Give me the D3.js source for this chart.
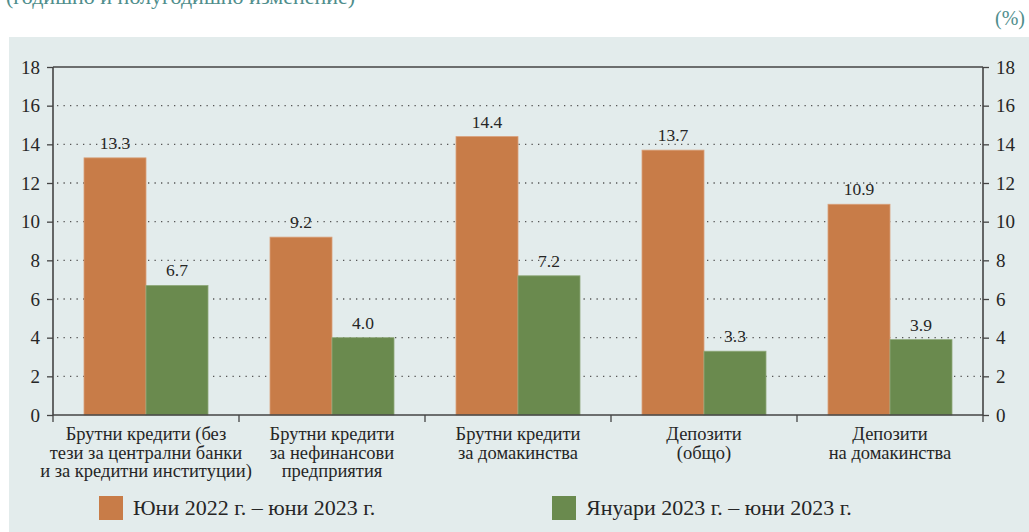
<!DOCTYPE html>
<html>
<head>
<meta charset="utf-8">
<script src="https://cdn.jsdelivr.net/npm/d3@7.9.0/dist/d3.min.js"></script>
<style>
  body { margin: 0; background: #fff; }
  svg { display: block; }
</style>
</head>
<body>
<svg id="chart" width="1029" height="532" font-family="Liberation Serif"></svg>
<script>
// Chart data
const categories = [
  ["Брутни кредити (без", "тези за централни банки", "и за кредитни институции)"],
  ["Брутни кредити", "за нефинансови", "предприятия"],
  ["Брутни кредити", "за домакинства"],
  ["Депозити", "(общо)"],
  ["Депозити", "на домакинства"]
];
const seriesNames = ["Юни 2022 г. – юни 2023 г.", "Януари 2023 г. – юни 2023 г."];
const yearly = [13.3, 9.2, 14.4, 13.7, 10.9];
const halfYear = [6.7, 4.0, 7.2, 3.3, 3.9];
const yTicks = [0, 2, 4, 6, 8, 10, 12, 14, 16, 18];

const colors = ["#c87c48", "#6a8a4e"];
const teal = "#4f8e8c";
const font = "Liberation Serif";
const textColor = "#262626";

const svg = d3.select('#chart');

// panel background
svg.append('rect')
  .attr('x', 9).attr('y', 37)
  .attr('width', 1020).attr('height', 495)
  .attr('fill', '#e3ecec');

// header bits (title is cut off at top)
svg.append('text')
  .attr('x', 6).attr('y', 4)
  .attr('font-family', font)
  .attr('font-size', 22)
  .attr('fill', teal)
  .text('(годишно и полугодишно изменение)');

svg.append('text')
  .attr('x', 1025).attr('y', 25)
  .attr('text-anchor', 'end')
  .attr('font-family', font)
  .attr('font-size', 20)
  .attr('fill', teal)
  .text('(%)');

const plotLeft = 53, plotRight = 983, plotTop = 67, plotBottom = 415;

const x = d3.scaleBand()
  .domain(d3.range(categories.length))
  .range([plotLeft, plotRight])
  .padding(0);

const inner = d3.scaleBand()
  .domain([0, 1])
  .range([x.bandwidth() / 6, x.bandwidth() * 5 / 6])
  .padding(0);

const y = d3.scaleLinear().domain([0, 18]).range([plotBottom, plotTop]);

// dotted gridlines
svg.append('g')
  .selectAll('line')
  .data(yTicks.filter(t => t > 0 && t < 18))
  .join('line')
  .attr('x1', plotLeft + 4).attr('x2', plotRight - 2)
  .attr('y1', d => y(d)).attr('y2', d => y(d))
  .attr('stroke', '#555')
  .attr('stroke-width', 1.3)
  .attr('stroke-dasharray', '1.3 5.2');

// bars
const data = [yearly, halfYear];
const groups = svg.append('g')
  .selectAll('g')
  .data(data)
  .join('g')
  .attr('fill', (d, i) => colors[i]);

groups.selectAll('rect')
  .data((d, si) => d.map((v, ci) => ({ v, ci, si })))
  .join('rect')
  .attr('x', d => x(d.ci) + inner(d.si))
  .attr('y', d => y(d.v))
  .attr('width', inner.bandwidth())
  .attr('height', d => y(0) - y(d.v))
  .attr('stroke', d => d.si === 0 ? '#d9a07a' : '#8fa87a')
  .attr('stroke-width', 0.8);

// value labels
groups.selectAll('text')
  .data((d, si) => d.map((v, ci) => ({ v, ci, si })))
  .join('text')
  .attr('x', d => x(d.ci) + inner(d.si) + inner.bandwidth() / 2)
  .attr('y', d => y(d.v) - 9)
  .attr('text-anchor', 'middle')
  .attr('font-family', font)
  .attr('font-size', 17.5)
  .attr('fill', textColor)
  .text(d => d.v.toFixed(1));

// axes
const axisColor = '#444';
const leftAxis = svg.append('g')
  .attr('transform', `translate(${plotLeft},0)`)
  .call(d3.axisLeft(y).tickValues(yTicks).tickSize(6).tickPadding(7));
const rightAxis = svg.append('g')
  .attr('transform', `translate(${plotRight},0)`)
  .call(d3.axisRight(y).tickValues(yTicks).tickSize(6).tickPadding(7));

[leftAxis, rightAxis].forEach(a => {
  a.attr('font-family', font);
  a.select('.domain').attr('stroke', axisColor).attr('stroke-width', 1.6)
    .attr('d', `M0,${plotTop}V${plotBottom}`);
  a.selectAll('.tick line').attr('stroke', axisColor).attr('stroke-width', 1.3);
  a.selectAll('.tick text')
    .attr('font-family', font)
    .attr('font-size', 19).attr('fill', textColor);
});

// top border and baseline
svg.append('line')
  .attr('x1', plotLeft).attr('x2', plotRight)
  .attr('y1', plotTop).attr('y2', plotTop)
  .attr('stroke', axisColor).attr('stroke-width', 1.6);

svg.append('line')
  .attr('x1', plotLeft).attr('x2', plotRight)
  .attr('y1', plotBottom).attr('y2', plotBottom)
  .attr('stroke', axisColor).attr('stroke-width', 1.6);

// category separators
svg.append('g')
  .selectAll('line')
  .data(d3.range(categories.length + 1))
  .join('line')
  .attr('x1', i => plotLeft + i * x.bandwidth())
  .attr('x2', i => plotLeft + i * x.bandwidth())
  .attr('y1', plotBottom).attr('y2', plotBottom + 7)
  .attr('stroke', axisColor).attr('stroke-width', 1.3);

// category labels
svg.append('g')
  .selectAll('text')
  .data(categories)
  .join('text')
  .attr('x', (d, i) => x(i) + x.bandwidth() / 2)
  .attr('y', 440)
  .attr('text-anchor', 'middle')
  .attr('font-family', font)
  .attr('font-size', 18.5)
  .attr('fill', textColor)
  .selectAll('tspan')
  .data(d => d)
  .join('tspan')
  .attr('x', function () { return d3.select(this.parentNode).attr('x'); })
  .attr('dy', (d, i) => i === 0 ? 0 : 18.5)
  .text(d => d);

// legend
const legendX = [99, 552];
const legend = svg.append('g')
  .selectAll('g')
  .data(seriesNames)
  .join('g')
  .attr('transform', (d, i) => `translate(${legendX[i]},496)`);

legend.append('rect')
  .attr('width', 24).attr('height', 24)
  .attr('fill', (d, i) => colors[i]);

legend.append('text')
  .attr('x', 34).attr('y', 19)
  .attr('font-family', font)
  .attr('font-size', 22)
  .attr('fill', textColor)
  .text(d => d);
</script>
</body>
</html>
